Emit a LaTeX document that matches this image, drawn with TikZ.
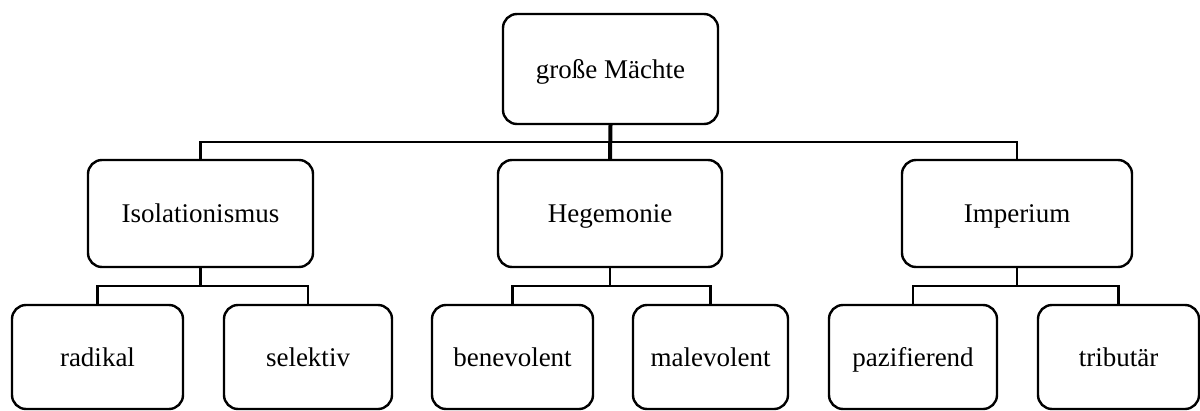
\documentclass[tikz,border=0pt]{standalone}
\usepackage{fontspec}
\setmainfont{Liberation Serif}
\begin{document}
\begin{tikzpicture}[x=1pt,y=-1pt,
  box/.style={draw=black, line width=2.4pt, rounded corners=14pt, inner sep=0pt,
    minimum width=#1, font=\fontsize{27}{32}\selectfont, align=center,
    text height=18pt, text depth=0pt},
  box/.default=160pt,
  conn/.style={draw=black, line width=2.2pt},
  trunk/.style={draw=black, line width=4pt}]
\clip (0,0) rectangle (1200,410);
\fill[white] (0,0) rectangle (1200,410);
% top level
\node[box=215pt, minimum height=110pt] (top) at (610.5,69) {große Mächte};
% middle level
\node[box=225pt, minimum height=107pt] (iso) at (200.5,213.5) {Isolationismus};
\node[box=224pt, minimum height=107pt] (heg) at (610,213.5) {Hegemonie};
\node[box=230pt, minimum height=107pt] (imp) at (1017,213.5) {Imperium};
% bottom level
\node[box=171pt, minimum height=104pt] (rad) at (97.5,357) {radikal};
\node[box=168pt, minimum height=104pt] (sel) at (308,357) {selektiv};
\node[box=161pt, minimum height=104pt] (ben) at (512.5,357) {benevolent};
\node[box=155pt, minimum height=104pt] (mal) at (710.5,357) {malevolent};
\node[box=168pt, minimum height=104pt] (paz) at (913,357) {pazifierend};
\node[box=161pt, minimum height=104pt] (tri) at (1118.5,357) {tributär};
% bus coordinates
\coordinate (b0) at (610,142);
\coordinate (b1) at (200.5,286);
\coordinate (b2) at (610,286);
\coordinate (b3) at (1017,286);
% connectors
\draw[conn] (iso.north) |- (b0) -| (imp.north);
\draw[trunk] (top.south) -- (heg.north);
\draw[conn] (iso.south) -- (b1);
\draw[conn] (rad.north) |- (b1) -| (sel.north);
\draw[conn] (heg.south) -- (b2);
\draw[conn] (ben.north) |- (b2) -| (mal.north);
\draw[conn] (imp.south) -- (b3);
\draw[conn] (paz.north) |- (b3) -| (tri.north);
\end{tikzpicture}
\end{document}
